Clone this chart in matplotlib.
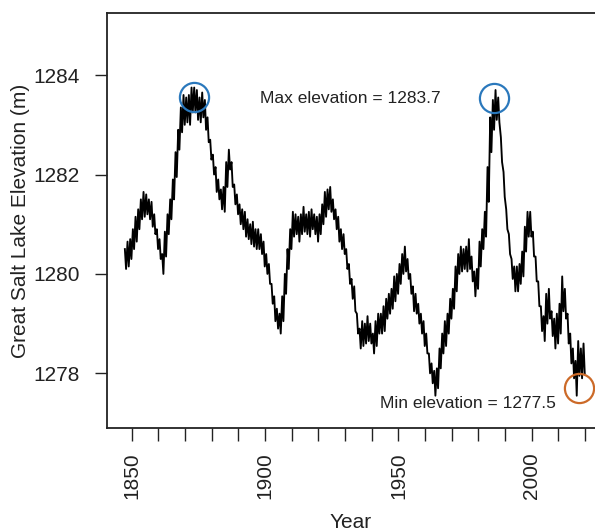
import matplotlib.pyplot as plt
import numpy as np

plt.rcParams['font.family'] = ['Liberation Sans', 'DejaVu Sans']

# yearly lake level (m): mid value and seasonal swing
years = np.arange(1847, 2020)
level_mid = [
    1280.3, 1280.4, 1280.5,
    1280.7, 1280.9, 1281.1, 1281.3, 1281.4, 1281.4, 1281.3, 1281.2, 1281.0, 1280.7,
    1280.5, 1280.2, 1280.6, 1281.0, 1281.3, 1281.7, 1282.2, 1282.7, 1283.1, 1283.3,
    1283.3, 1283.3, 1283.5, 1283.5, 1283.4, 1283.3, 1283.4, 1283.2, 1282.9, 1282.5,
    1282.2, 1281.9, 1281.7, 1281.5, 1281.5, 1282.0, 1282.3, 1282.0, 1281.6, 1281.4,
    1281.2, 1281.1, 1281.0, 1280.9, 1280.8, 1280.8, 1280.7, 1280.7, 1280.6, 1280.4,
    1280.2, 1280.0, 1279.6, 1279.3, 1279.1, 1279.0, 1279.3, 1279.8, 1280.3, 1280.7,
    1281.0, 1281.0, 1280.9, 1281.0, 1281.1, 1281.0, 1281.0, 1281.1, 1281.0, 1280.9,
    1281.0, 1281.2, 1281.4, 1281.5, 1281.5, 1281.3, 1281.1, 1280.9, 1280.7, 1280.6,
    1280.3, 1280.0, 1279.7, 1279.5, 1279.0, 1278.7, 1278.8, 1278.8, 1278.9, 1278.8,
    1278.6, 1278.8, 1279.0, 1279.0, 1279.1, 1279.3, 1279.4, 1279.5, 1279.7, 1279.8,
    1280.0, 1280.2, 1280.3, 1280.1, 1279.8, 1279.5, 1279.4, 1279.2, 1279.0, 1278.8,
    1278.6, 1278.2, 1278.0, 1277.8, 1277.9, 1278.3, 1278.6, 1278.8, 1279.0, 1279.3,
    1279.5, 1279.9, 1280.2, 1280.3, 1280.3, 1280.3, 1280.4, 1280.1, 1279.8, 1279.9,
    1280.4, 1280.7, 1281.0, 1281.8, 1282.8, 1283.2, 1283.4, 1283.3, 1282.5, 1281.8,
    1281.1, 1280.6, 1280.1, 1279.9, 1279.9, 1280.0, 1280.2, 1280.7, 1281.0, 1281.0,
    1280.6, 1280.1, 1279.6, 1279.1, 1278.9, 1279.3, 1279.4, 1279.0, 1278.8, 1278.9,
    1279.1, 1279.6, 1279.4, 1278.9, 1278.5, 1278.2, 1277.9, 1278.3, 1278.2, 1278.3,
]
level_range = [
    0.4, 0.5, 0.4,
    0.4, 0.5, 0.4, 0.4, 0.5, 0.4, 0.4, 0.5, 0.4, 0.4,
    0.4, 0.4, 0.5, 0.4, 0.4, 0.4, 0.5, 0.4, 0.5, 0.6,
    0.5, 0.6, 0.5, 0.5, 0.6, 0.5, 0.5, 0.6, 0.5, 0.4,
    0.4, 0.5, 0.4, 0.4, 0.5, 0.5, 0.4, 0.5, 0.4, 0.4,
    0.4, 0.4, 0.5, 0.4, 0.4, 0.5, 0.4, 0.4, 0.4, 0.5,
    0.4, 0.4, 0.4, 0.5, 0.4, 0.4, 0.5, 0.4, 0.4, 0.4,
    0.5, 0.4, 0.5, 0.4, 0.5, 0.4, 0.5, 0.4, 0.4, 0.5,
    0.4, 0.4, 0.5, 0.4, 0.5, 0.4, 0.4, 0.5, 0.4, 0.4,
    0.4, 0.4, 0.4, 0.5, 0.4, 0.4, 0.5, 0.4, 0.5, 0.4,
    0.4, 0.5, 0.4, 0.4, 0.5, 0.4, 0.4, 0.4, 0.5, 0.4,
    0.4, 0.4, 0.5, 0.4, 0.4, 0.5, 0.4, 0.4, 0.4, 0.5,
    0.4, 0.4, 0.4, 0.5, 0.4, 0.4, 0.4, 0.5, 0.4, 0.4,
    0.4, 0.5, 0.4, 0.5, 0.4, 0.5, 0.6, 0.5, 0.5, 0.4,
    0.5, 0.4, 0.5, 0.7, 0.7, 0.6, 0.6, 0.5, 0.5, 0.5,
    0.4, 0.4, 0.4, 0.5, 0.5, 0.4, 0.5, 0.5, 0.5, 0.5,
    0.5, 0.5, 0.5, 0.5, 0.5, 0.6, 0.6, 0.5, 0.6, 0.6,
    0.6, 0.7, 0.6, 0.6, 0.6, 0.6, 0.7, 0.7, 0.6, 0.6,
]

max_years = [1873.4, 1985.8]
max_elev = [1283.56, 1283.53]
min_years = [2017.7]
min_elev = [1277.7]
max_label = "Max elevation = 1283.7"
min_label = "Min elevation = 1277.5"

mid = np.array(level_mid)
rng = np.array(level_range)
# spring high then autumn low each year
t = np.column_stack([years + 0.4, years + 0.85]).ravel()
z = np.column_stack([mid + rng / 2, mid - rng / 2]).ravel()

fig = plt.figure(figsize=(5.95, 5.31), dpi=100)
ax = fig.add_axes([107 / 595, 103 / 531, 488 / 595, 415 / 531])

ax.plot(t, z, color='black', lw=1.35)
ax.plot(max_years, max_elev, 'o', ms=21, mfc='none', mec='#2a78bc', mew=1.6)
ax.plot(min_years, min_elev, 'o', ms=21, mfc='none', mec='#cc6a28', mew=1.6)

ax.text(1932.0, 1283.53, max_label, ha='center', va='center', fontsize=12.5, color='#222222')
ax.text(1975.9, 1277.39, min_label, ha='center', va='center', fontsize=12.5, color='#222222')

ax.set_xlim(1840.7, 2023.7)
ax.set_ylim(1276.9, 1285.25)

ax.set_xticks(np.arange(1850, 2021, 10))
ax.set_xticklabels([str(y) if y % 50 == 0 else '' for y in range(1850, 2021, 10)], rotation=90)
ax.set_yticks([1278, 1280, 1282, 1284])

ax.tick_params(axis='both', direction='out', length=9, width=1.0, color='#222222',
               labelsize=15, labelcolor='#222222')
ax.tick_params(axis='x', pad=8.5)
ax.tick_params(axis='y', pad=10.5)

for side in ['left', 'bottom', 'top']:
    ax.spines[side].set_linewidth(1.3)
    ax.spines[side].set_color('#222222')
ax.spines['right'].set_visible(False)

ax.set_xlabel("Year", fontsize=15, color='#222222', labelpad=10)
ax.set_ylabel("Great Salt Lake Elevation (m)", fontsize=15, color='#222222', labelpad=2.5)

fig.savefig("out.png", dpi=100)
